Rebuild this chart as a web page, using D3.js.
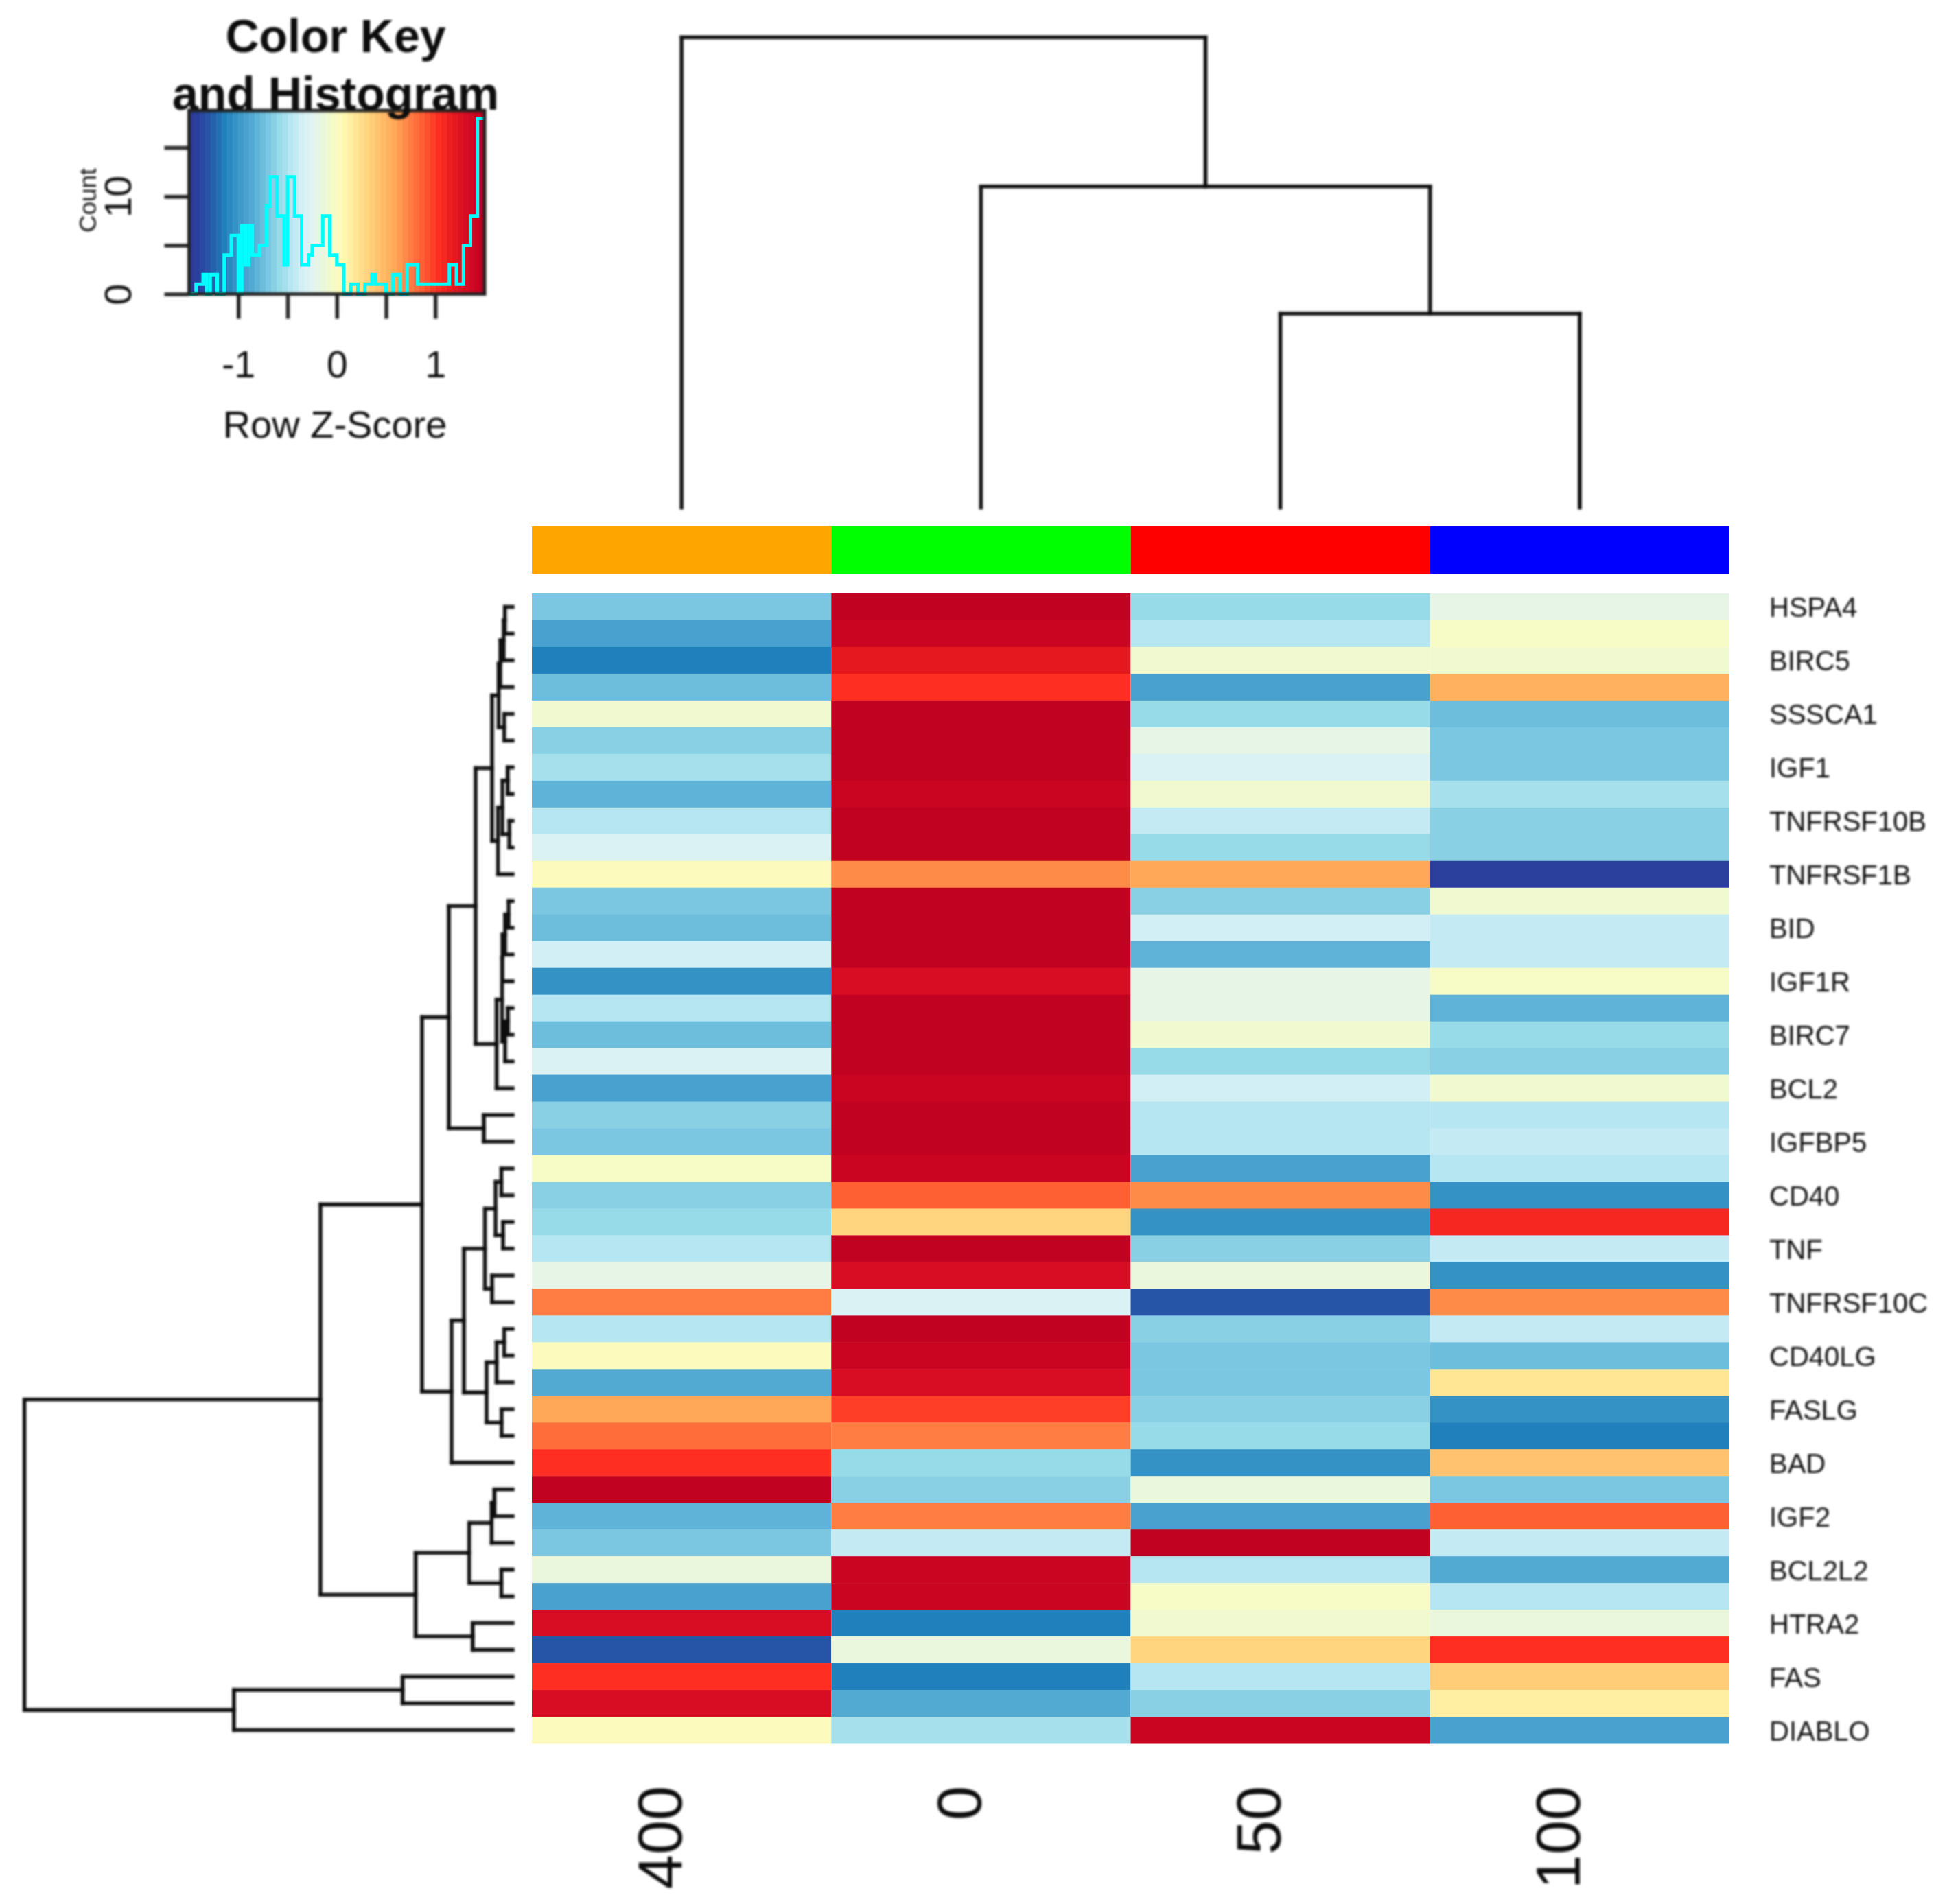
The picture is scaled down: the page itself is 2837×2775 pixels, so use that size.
<!DOCTYPE html>
<html>
<head>
    <title>Heatmap with row and column dendrograms</title>
    <style>
        body, html { margin: 0; padding: 0; background: #fff; overflow: hidden; }
        text { font-family: "Liberation Sans", Arial, sans-serif; fill: #111; }
    </style>
    <script src="https://d3js.org/d3.v7.min.js"></script>
</head>
<body>
<svg id="chart" width="2837" height="2775"></svg>
<script>
const columns = ['400', '0', '50', '100'];
const sideColors = ['#FFA500', '#00FF00', '#FF0000', '#0000FF'];

// gene names, only every other row gets a label (rows 1, 3, 5, ...)
const rowLabels = ['HSPA4', 'BIRC5', 'SSSCA1', 'IGF1', 'TNFRSF10B', 'TNFRSF1B', 'BID', 'IGF1R',
    'BIRC7', 'BCL2', 'IGFBP5', 'CD40', 'TNF', 'TNFRSF10C', 'CD40LG', 'FASLG', 'BAD', 'IGF2',
    'BCL2L2', 'HTRA2', 'FAS', 'DIABLO'];

// row z-scores, columns in the order 400, 0, 50, 100
const zScores = [
    [-0.68, 1.48, -0.57, -0.20],
    [-0.89, 1.42, -0.47, -0.04],
    [-1.14, 1.20, -0.07, -0.07],
    [-0.73, 1.02, -0.89, 0.50],
    [-0.07, 1.48, -0.57, -0.73],
    [-0.63, 1.48, -0.20, -0.68],
    [-0.52, 1.48, -0.28, -0.68],
    [-0.79, 1.42, -0.07, -0.52],
    [-0.47, 1.48, -0.42, -0.63],
    [-0.28, 1.48, -0.57, -0.63],
    [0.04, 0.68, 0.60, -1.43],
    [-0.68, 1.48, -0.63, -0.07],
    [-0.73, 1.48, -0.36, -0.42],
    [-0.36, 1.48, -0.79, -0.42],
    [-1.05, 1.30, -0.20, -0.02],
    [-0.47, 1.48, -0.20, -0.79],
    [-0.73, 1.48, -0.07, -0.57],
    [-0.28, 1.48, -0.57, -0.63],
    [-0.89, 1.42, -0.36, -0.07],
    [-0.63, 1.46, -0.47, -0.47],
    [-0.68, 1.48, -0.47, -0.42],
    [-0.02, 1.42, -0.89, -0.47],
    [-0.63, 0.88, 0.68, -1.05],
    [-0.57, 0.33, -1.05, 1.10],
    [-0.47, 1.48, -0.63, -0.42],
    [-0.20, 1.30, -0.14, -1.05],
    [0.74, -0.28, -1.28, 0.68],
    [-0.47, 1.48, -0.63, -0.42],
    [0.04, 1.42, -0.68, -0.73],
    [-0.85, 1.30, -0.68, 0.20],
    [0.60, 0.95, -0.63, -1.05],
    [0.80, 0.74, -0.57, -1.14],
    [1.02, -0.57, -1.05, 0.42],
    [1.48, -0.63, -0.14, -0.68],
    [-0.79, 0.74, -0.89, 0.85],
    [-0.68, -0.42, 1.48, -0.42],
    [-0.14, 1.42, -0.47, -0.85],
    [-0.89, 1.42, -0.02, -0.47],
    [1.30, -1.14, -0.07, -0.14],
    [-1.28, -0.14, 0.30, 1.00],
    [1.02, -1.14, -0.47, 0.36],
    [1.30, -0.85, -0.63, 0.13],
    [0.04, -0.52, 1.42, -0.89]
];

// dendrograms in hclust form: [left, right, height], negative = leaf number,
// positive = an earlier merge. Heights are relative to the root (100).
const rowMerge = [
    [-1, -2, 1.59], [1, -3, 1.83], [2, -4, 2.53], [-5, -6, 1.73], [3, 4, 2.88], [-7, -8, 1.01],
    [-9, -10, 0.70], [6, 7, 2.11], [8, -11, 3.02], [5, 9, 4.22], [-12, -13, 0.84], [11, -14, 1.55],
    [12, -15, 2.11], [-16, -17, 0.98], [14, -18, 1.55], [13, 15, 2.17], [16, -19, 3.30], [10, 17, 7.59],
    [-20, -21, 5.90], [18, 19, 13.07], [-22, -23, 2.31], [-24, -25, 1.97], [21, 22, 3.51], [-26, -27, 4.22],
    [23, 24, 5.68], [-28, -29, 1.73], [26, -30, 3.30], [-31, -32, 2.25], [27, 28, 5.34], [25, 29, 9.98],
    [30, -33, 12.51], [20, 31, 18.56], [-34, -35, 3.74], [33, -36, 4.32], [-37, -38, 2.31], [34, 35, 8.90],
    [-39, -40, 8.18], [36, 37, 19.88], [32, 38, 39.37], [-41, -42, 22.54], [40, -43, 57.10], [39, 41, 100]
];
const colMerge = [[-3, -4, 41.3], [-2, 1, 68.3], [-1, 2, 100]];

// histogram trace in the colour key
const histCounts = [0, 0, 1, 1, 2, 0, 2, 2, 0, 0, 4, 4, 6, 6, 0, 7, 3, 7, 4, 4, 5, 5, 9, 12, 12, 8, 8, 3,
    12, 12, 8, 8, 3, 3, 4, 5, 5, 5, 8, 8, 4, 4, 3, 3, 0, 0, 1, 1, 0, 0, 1, 1, 2, 1, 1, 1, 0, 0, 2, 2, 0, 0,
    3, 3, 3, 1, 1, 1, 1, 1, 1, 1, 1, 1, 3, 3, 1, 1, 5, 5, 8, 8, 18, 18];

// colour ramp of the key
const rampZ = [-1.5, -1.43, -1.28, -1.14, -1.0, -0.89, -0.79, -0.68, -0.57, -0.47, -0.36, -0.26, -0.15, -0.04,
    0.06, 0.17, 0.31, 0.45, 0.6, 0.74, 0.88, 1.02, 1.2, 1.34, 1.5];
const rampColors = ['#2C3A98', '#2C3E9C', '#2558A8', '#2080BC', '#3A96C6', '#4CA5D0', '#62B6DA', '#7FC9E2', '#9ADCE9',
    '#B7E6F1', '#D2EFF6', '#E0F4F3', '#EAF6DE', '#F6FBC8', '#FFFAB6', '#FEEA9A', '#FFD47E', '#FFBE6A', '#FFA555',
    '#FF7F43', '#FF5B30', '#FF2F22', '#E4161F', '#D40A24', '#BE0020'];
const keyDomain = [-1.5, 1.5];
const nBands = 54;

const ramp = d3.scaleLinear().domain(rampZ).range(rampColors).interpolate(d3.interpolateRgb);
const bandWidth = (keyDomain[1] - keyDomain[0]) / nBands;
const palette = d3.range(nBands).map(i => ramp(keyDomain[0] + (i + 0.5) * bandWidth));
const color = d3.scaleQuantize().domain(keyDomain).range(palette);

const svg = d3.select('#chart');
svg.append('rect').attr('width', 2837).attr('height', 2775).attr('fill', '#fff');

const defs = svg.append('defs');
defs.append('filter').attr('id', 'soft').attr('x', '-5%').attr('y', '-5%').attr('width', '110%').attr('height', '110%')
    .append('feGaussianBlur').attr('stdDeviation', 1.5);

// scales
const x = d3.scaleBand().domain(columns).range([775, 2520]);
const y = d3.scaleBand().domain(d3.range(zScores.length)).range([865, 2541]);
const rowHeight = d3.scaleLinear().domain([0, 100]).range([747, 35.7]);
const colHeight = d3.scaleLinear().domain([0, 100]).range([740, 54.5]);

// heatmap
svg.append('g').selectAll('g')
    .data(zScores)
    .enter().append('g')
    .selectAll('rect')
    .data((row, i) => row.map((v, j) => ({ v: v, i: i, j: j })))
    .enter().append('rect')
    .attr('x', d => x(columns[d.j]))
    .attr('y', d => y(d.i))
    .attr('width', x.bandwidth())
    .attr('height', y.bandwidth() + 0.5)
    .attr('fill', d => color(d.v));

// side colours
svg.append('g').selectAll('rect')
    .data(columns)
    .enter().append('rect')
    .attr('x', d => x(d))
    .attr('y', 767)
    .attr('width', x.bandwidth())
    .attr('height', 69)
    .attr('fill', (d, i) => sideColors[i]);

// walks a merge table and returns the bracket segments
function dendroSegments(merge, leafPos) {
    const nodes = [];
    const segs = [];
    const locate = id => id < 0 ? { p: leafPos(-id - 1), h: 0 } : nodes[id - 1];
    merge.forEach(m => {
        const a = locate(m[0]);
        const b = locate(m[1]);
        const h = m[2];
        segs.push({ p1: a.p, h1: a.h, p2: a.p, h2: h });
        segs.push({ p1: b.p, h1: b.h, p2: b.p, h2: h });
        segs.push({ p1: a.p, h1: h, p2: b.p, h2: h });
        nodes.push({ p: (a.p + b.p) / 2, h: h });
    });
    return segs;
}

const soft = svg.append('g').attr('filter', 'url(#soft)');

soft.append('g').selectAll('line')
    .data(dendroSegments(rowMerge, i => y(i) + y.bandwidth() / 2))
    .enter().append('line')
    .attr('x1', d => rowHeight(d.h1))
    .attr('x2', d => rowHeight(d.h2))
    .attr('y1', d => d.p1)
    .attr('y2', d => d.p2)
    .attr('stroke', '#111')
    .attr('stroke-width', 5.5)
    .attr('stroke-linecap', 'square');

soft.append('g').selectAll('line')
    .data(dendroSegments(colMerge, i => x(columns[i]) + x.bandwidth() / 2))
    .enter().append('line')
    .attr('x1', d => d.p1)
    .attr('x2', d => d.p2)
    .attr('y1', d => colHeight(d.h1))
    .attr('y2', d => colHeight(d.h2))
    .attr('stroke', '#111')
    .attr('stroke-width', 5.5)
    .attr('stroke-linecap', 'square');

// row and column labels
soft.append('g').selectAll('text')
    .data(rowLabels)
    .enter().append('text')
    .attr('x', 2578)
    .attr('y', (d, i) => y(i * 2) + y.bandwidth() / 2 + 15)
    .attr('font-size', 40)
    .text(d => d);

soft.append('g').selectAll('text')
    .data(columns)
    .enter().append('text')
    .attr('transform', d => `translate(${x(d) + x.bandwidth() / 2},2603) rotate(-90)`)
    .attr('text-anchor', 'end')
    .attr('font-size', 90)
    .text(d => d);

// colour key
const keyX = d3.scaleLinear().domain(keyDomain).range([275.5, 706]);
const keyY = d3.scaleLinear().domain([0, 18.8]).range([428.6, 161]);

svg.append('g').selectAll('rect')
    .data(palette)
    .enter().append('rect')
    .attr('x', (d, i) => keyX(keyDomain[0] + i * bandWidth))
    .attr('y', keyY.range()[1])
    .attr('width', keyX(keyDomain[0] + bandWidth) - keyX(keyDomain[0]) + 0.5)
    .attr('height', keyY.range()[0] - keyY.range()[1])
    .attr('fill', d => d);

const histStep = (keyDomain[1] - keyDomain[0]) / histCounts.length;
const histLine = d3.line()
    .x((d, i) => keyX(keyDomain[0] + i * histStep))
    .y(d => keyY(d))
    .curve(d3.curveStepAfter);
svg.append('path')
    .attr('d', histLine(histCounts.concat(histCounts[histCounts.length - 1])))
    .attr('fill', 'none')
    .attr('stroke', '#00FFFF')
    .attr('stroke-width', 5);

const keySoft = svg.append('g').attr('filter', 'url(#soft)');

keySoft.append('rect')
    .attr('x', 275.5)
    .attr('y', 161)
    .attr('width', 430.5)
    .attr('height', 267.6)
    .attr('fill', 'none')
    .attr('stroke', '#222')
    .attr('stroke-width', 5);

const xAxis = d3.axisBottom(keyX)
    .tickValues([-1, -0.5, 0, 0.5, 1])
    .tickFormat(d => Number.isInteger(d) ? String(d) : '')
    .tickSize(36);
const gx = keySoft.append('g').attr('transform', 'translate(0,428.6)').call(xAxis);
gx.select('.domain').remove();
gx.selectAll('line').attr('stroke', '#222').attr('stroke-width', 5.5);
gx.selectAll('text')
    .attr('y', 121)
    .attr('dy', 0)
    .attr('font-size', 55)
    .attr('font-family', '"Liberation Sans", Arial, sans-serif');

const yAxis = d3.axisLeft(keyY)
    .tickValues([0, 5, 10, 15])
    .tickFormat(d => d % 10 === 0 ? String(d) : '')
    .tickSize(36);
const gy = keySoft.append('g').attr('transform', 'translate(275.5,0)').call(yAxis);
gy.select('.domain').remove();
gy.selectAll('line').attr('stroke', '#222').attr('stroke-width', 5.5);
gy.selectAll('text')
    .attr('x', null)
    .attr('dy', 0)
    .attr('text-anchor', 'middle')
    .attr('transform', 'translate(-84.5,0) rotate(-90)')
    .attr('font-size', 55)
    .attr('font-family', '"Liberation Sans", Arial, sans-serif');

keySoft.append('text')
    .attr('transform', 'translate(140,292) rotate(-90)')
    .attr('text-anchor', 'middle')
    .attr('font-size', 35)
    .attr('fill', '#444')
    .text('Count');

keySoft.append('text')
    .attr('x', 488)
    .attr('y', 638)
    .attr('text-anchor', 'middle')
    .attr('font-size', 56)
    .text('Row Z-Score');

const title = keySoft.append('g')
    .attr('text-anchor', 'middle')
    .attr('font-size', 68)
    .attr('font-weight', 'bold');
title.append('text').attr('x', 489).attr('y', 76).text('Color Key');
title.append('text').attr('x', 489).attr('y', 160).text('and Histogram');
</script>
</body>
</html>
